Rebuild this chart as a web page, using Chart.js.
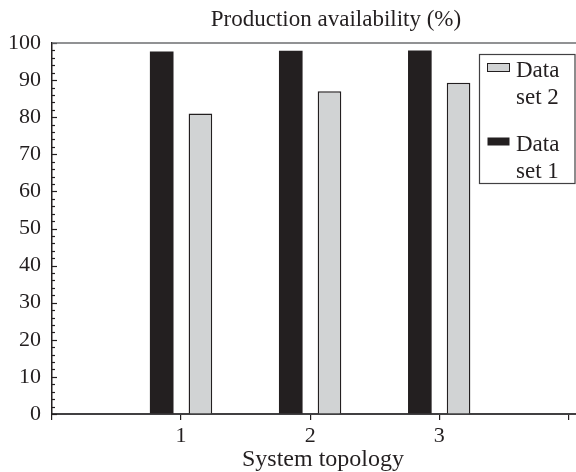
<!DOCTYPE html>
<html>
<head>
<meta charset="utf-8">
<script src="https://cdn.jsdelivr.net/npm/chart.js@4/dist/chart.umd.min.js"></script>
<style>
  html, body { margin: 0; padding: 0; background: #fff; }
  #wrap { position: relative; width: 576px; height: 472px; }
  canvas { display: block; }
</style>
</head>
<body>
<div id="wrap"><canvas id="chart" width="576" height="472"></canvas></div>
<script>
// System topologies along the x axis
const topologies = [1, 2, 3];
// Production availability (%) per topology
const dataSet1 = [97.7, 97.9, 98.0];
const dataSet2 = [81.0, 87.0, 89.3];
const seriesNames = ['Data set 1', 'Data set 2'];
// Axis ticks
const xTickValues = [0, 1, 2, 3, 4];
const xTickLabels = ['', '1', '2', '3', ''];
const yTickValues = [0, 10, 20, 30, 40, 50, 60, 70, 80, 90, 100];
const chartTitle = 'Production availability (%)';
const xTitle = 'System topology';

const INK = '#231f20';
const LIGHT = '#d1d3d4';
const SERIF = "'Liberation Serif', 'Times New Roman', 'DejaVu Serif', serif";

// Chart title (set right of centre, over the bars) and x-axis title
const titles = {
  id: 'titles',
  afterDraw(chart) {
    const { ctx, chartArea } = chart;
    ctx.save();
    ctx.fillStyle = INK;
    ctx.textAlign = 'center';
    ctx.textBaseline = 'middle';
    ctx.font = '23px ' + SERIF;
    ctx.fillText(chartTitle, chartArea.left + 284, 20);
    ctx.font = '24px ' + SERIF;
    ctx.fillText(xTitle, chartArea.left + 271, chart.height - 12);
    ctx.restore();
  }
};

// Inward major/minor tick marks on the y axis and the top frame line
const frameTicks = {
  id: 'frameTicks',
  afterDraw(chart) {
    const { ctx, chartArea } = chart;
    const y = chart.scales.y;
    ctx.save();
    ctx.strokeStyle = INK;
    ctx.lineWidth = 1.2;
    for (let v = y.min; v <= y.max; v += 2) {
      const py = Math.round(y.getPixelForValue(v)) + 0.5;
      const len = (v % 10 === 0) ? 5 : 3;
      ctx.beginPath();
      ctx.moveTo(chartArea.left, py);
      ctx.lineTo(chartArea.left + len, py);
      ctx.stroke();
    }
    // top frame
    ctx.strokeStyle = '#6d6e70';
    ctx.lineWidth = 1.6;
    const ty = y.getPixelForValue(y.max);
    ctx.beginPath();
    ctx.moveTo(chartArea.left, ty);
    ctx.lineTo(chart.width, ty);
    ctx.stroke();
    ctx.restore();
  }
};

// Boxed legend in the upper right, entries listed in reverse order, labels wrapped after the first word
const boxLegend = {
  id: 'boxLegend',
  afterDraw(chart) {
    const { ctx, chartArea } = chart;
    const boxLeft = 479.5, boxTop = chartArea.top + 11.5;
    const boxW = chart.width - 1 - boxLeft, boxH = 129;
    ctx.save();
    ctx.fillStyle = '#fff';
    ctx.fillRect(boxLeft, boxTop, boxW, boxH);
    ctx.strokeStyle = '#414042';
    ctx.lineWidth = 1.2;
    ctx.strokeRect(boxLeft, boxTop, boxW, boxH);

    ctx.font = '23px ' + SERIF;
    ctx.textBaseline = 'alphabetic';
    ctx.textAlign = 'left';
    const lineGap = 27, entryGap = 47;
    let base = boxTop + 22;
    const items = chart.data.datasets.slice().reverse();
    items.forEach((ds) => {
      const m = ds.label.match(/^(\S+)\s+(.*)$/);
      const lines = m ? [m[1], m[2]] : [ds.label];
      // swatch
      ctx.fillStyle = ds.backgroundColor;
      ctx.fillRect(487.5, base - 13, 22, 8);
      if (ds.borderWidth) {
        ctx.strokeStyle = ds.borderColor;
        ctx.lineWidth = 1;
        ctx.strokeRect(487.5, base - 13, 22, 8);
      }
      ctx.fillStyle = INK;
      lines.forEach((t, i) => ctx.fillText(t, 516, base + i * lineGap));
      base += lineGap + entryGap;
    });
    ctx.restore();
  }
};

new Chart(document.getElementById('chart'), {
  type: 'bar',
  data: {
    datasets: [
      {
        label: seriesNames[0],
        data: topologies.map((t, i) => ({ x: t, y: dataSet1[i] })),
        backgroundColor: INK,
        borderWidth: 0
      },
      {
        label: seriesNames[1],
        data: topologies.map((t, i) => ({ x: t, y: dataSet2[i] })),
        backgroundColor: LIGHT,
        borderColor: INK,
        borderWidth: 1.5,
        borderSkipped: 'bottom'
      }
    ]
  },
  options: {
    responsive: false,
    animation: false,
    devicePixelRatio: 1,
    layout: { padding: { top: 43 } },
    categoryPercentage: 0.6,
    barPercentage: 0.61,
    plugins: {
      legend: { display: false },
      tooltip: { enabled: false },
      title: { display: false }
    },
    scales: {
      x: {
        type: 'linear',
        offset: false,
        min: 0,
        max: 4.06,
        afterBuildTicks: (scale) => { scale.ticks = xTickValues.map(v => ({ value: v })); },
        afterFit: (scale) => { scale.height = 58; },
        ticks: {
          color: INK,
          font: { family: SERIF, size: 22 },
          padding: 3,
          maxRotation: 0,
          autoSkip: false,
          callback: (v) => xTickLabels[xTickValues.indexOf(v)] ?? ''
        },
        grid: {
          display: true,
          offset: false,
          drawOnChartArea: false,
          drawTicks: true,
          tickLength: 6,
          color: INK,
          lineWidth: 1.2
        },
        border: { display: true, color: '#414042', width: 2 },
        title: { display: false }
      },
      y: {
        type: 'linear',
        min: 0,
        max: 100,
        afterBuildTicks: (scale) => { scale.ticks = yTickValues.map(v => ({ value: v })); },
        afterFit: (scale) => { scale.width = 52; },
        ticks: {
          color: INK,
          font: { family: SERIF, size: 22 },
          padding: 11
        },
        grid: { display: true, drawOnChartArea: false, drawTicks: false },
        border: { display: true, color: INK, width: 1.5 }
      }
    }
  },
  plugins: [titles, frameTicks, boxLegend]
});
</script>
</body>
</html>
